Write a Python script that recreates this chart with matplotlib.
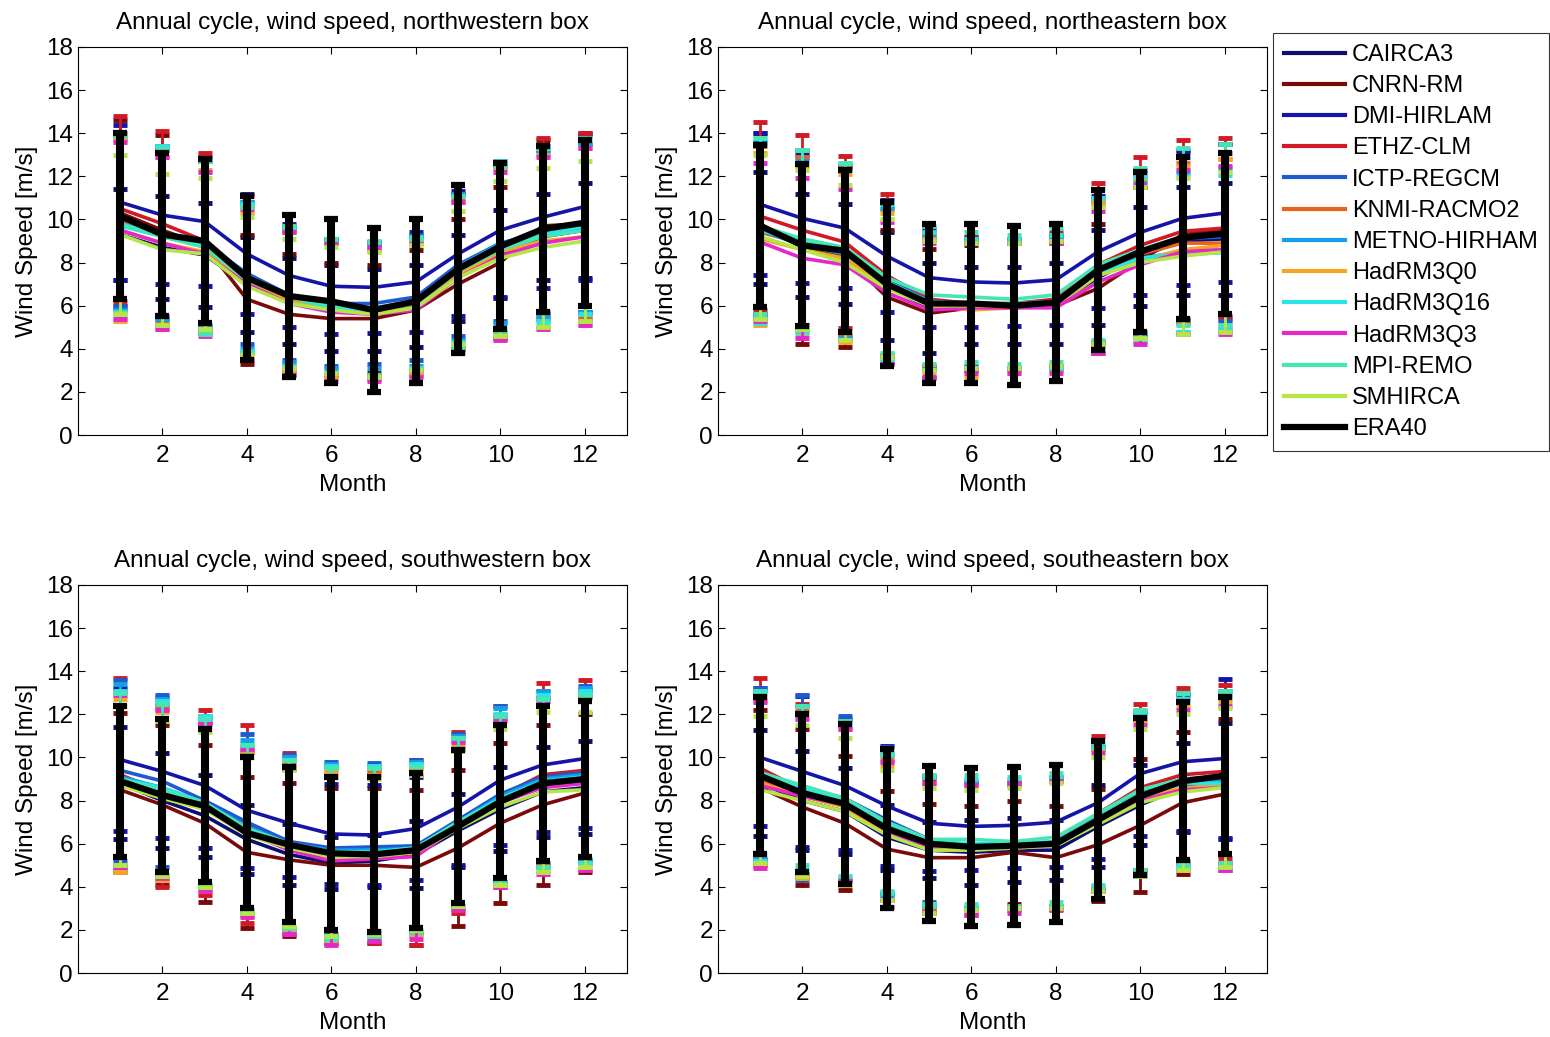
import numpy as np
import matplotlib.pyplot as plt
from matplotlib.lines import Line2D

plt.rcParams['font.family'] = ['Liberation Sans', 'DejaVu Sans']

months = np.arange(1, 13)

models = ['CAIRCA3', 'CNRN-RM', 'DMI-HIRLAM', 'ETHZ-CLM', 'ICTP-REGCM',
          'KNMI-RACMO2', 'METNO-HIRHAM', 'HadRM3Q0', 'HadRM3Q16', 'HadRM3Q3',
          'MPI-REMO', 'SMHIRCA', 'ERA40']
colors = ['#0d0d73', '#7a0a0a', '#1414a8', '#d01a26', '#1e5ad2', '#e8641e',
          '#14a0e6', '#f5a623', '#28e6e6', '#e628c8', '#46e6b4', '#b4e646', 'k']

# monthly mean wind speed [m/s], one row per model (same order as models)
nw_mean = [
    [9.3, 8.7, 8.35, 7.0, 6.2, 5.9, 5.8, 6.0, 7.3, 8.4, 9.2, 9.5],
    [10.3, 9.5, 8.8, 6.3, 5.6, 5.4, 5.4, 5.8, 7.0, 8.0, 9.7, 9.8],
    [10.8, 10.2, 9.9, 8.4, 7.4, 6.9, 6.85, 7.1, 8.4, 9.5, 10.1, 10.6],
    [10.5, 9.8, 9.0, 7.3, 6.3, 5.9, 5.7, 6.0, 7.6, 8.6, 9.6, 9.7],
    [10.0, 9.3, 8.9, 7.5, 6.5, 6.1, 6.1, 6.4, 7.9, 8.9, 9.4, 9.6],
    [9.9, 9.2, 8.8, 7.2, 6.3, 5.9, 5.7, 6.0, 7.5, 8.6, 9.3, 9.5],
    [9.8, 9.3, 8.9, 7.4, 6.5, 6.0, 5.9, 6.2, 7.8, 8.9, 9.3, 9.6],
    [9.5, 8.9, 8.5, 7.0, 6.2, 5.8, 5.6, 5.9, 7.4, 8.5, 9.0, 9.2],
    [9.7, 9.2, 8.8, 7.3, 6.4, 5.9, 5.8, 6.1, 7.7, 8.8, 9.3, 9.7],
    [9.5, 8.9, 8.4, 7.0, 6.1, 5.7, 5.6, 5.8, 7.3, 8.3, 8.9, 9.2],
    [9.8, 9.2, 8.7, 7.2, 6.4, 6.0, 5.9, 6.1, 7.6, 8.6, 9.2, 9.5],
    [9.3, 8.6, 8.4, 6.9, 6.1, 5.8, 5.6, 5.9, 7.3, 8.2, 8.7, 9.0],
    [10.15, 9.3, 9.0, 7.3, 6.45, 6.2, 5.8, 6.2, 7.7, 8.75, 9.55, 9.85],
]
nw_std = [
    [2.1, 2.4, 2.4, 2.2, 2.0, 2.0, 1.9, 1.9, 2.0, 2.05, 2.0, 2.2],
    [4.3, 4.4, 4.0, 3.0, 2.8, 2.6, 2.5, 2.8, 3.0, 3.5, 4.0, 4.1],
    [3.6, 3.2, 3.0, 2.8, 2.4, 2.2, 2.1, 2.3, 2.9, 3.1, 3.3, 3.4],
    [4.3, 4.3, 4.1, 3.8, 3.3, 3.1, 3.1, 3.2, 3.6, 4.1, 4.2, 4.3],
    [4.0, 3.9, 3.8, 3.3, 3.0, 2.9, 2.8, 2.9, 3.3, 3.6, 3.8, 3.9],
    [4.1, 4.0, 3.9, 3.4, 3.1, 3.0, 2.9, 3.0, 3.4, 3.8, 3.9, 4.0],
    [4.0, 3.9, 3.9, 3.4, 3.1, 2.9, 2.8, 3.0, 3.4, 3.7, 3.8, 3.9],
    [4.2, 4.0, 3.8, 3.3, 3.2, 3.1, 3.0, 3.1, 3.4, 3.9, 4.0, 4.1],
    [4.2, 4.2, 3.9, 3.4, 3.2, 3.0, 3.0, 3.1, 3.4, 3.9, 4.0, 4.1],
    [4.1, 4.0, 3.8, 3.5, 3.3, 3.2, 3.1, 3.1, 3.5, 3.9, 4.0, 4.1],
    [4.1, 4.1, 4.0, 3.4, 3.3, 3.1, 3.1, 3.0, 3.5, 3.9, 4.1, 4.2],
    [3.7, 3.5, 3.5, 3.2, 3.0, 2.9, 2.9, 2.9, 3.1, 3.6, 3.7, 3.7],
    [3.85, 3.8, 3.8, 3.8, 3.75, 3.8, 3.8, 3.8, 3.9, 3.85, 3.85, 3.85],
]

ne_mean = [
    [9.6, 8.8, 8.4, 6.9, 5.9, 6.0, 6.0, 6.1, 7.3, 8.3, 9.0, 9.1],
    [9.8, 8.7, 8.3, 6.4, 5.65, 5.9, 6.0, 6.0, 6.8, 8.1, 9.3, 9.5],
    [10.7, 10.05, 9.6, 8.3, 7.3, 7.1, 7.05, 7.2, 8.5, 9.4, 10.05, 10.3],
    [10.15, 9.5, 8.95, 7.4, 6.3, 6.1, 6.1, 6.3, 7.9, 8.8, 9.45, 9.6],
    [9.6, 9.0, 8.6, 7.2, 6.2, 6.1, 6.0, 6.2, 7.6, 8.5, 9.1, 9.2],
    [9.4, 8.9, 8.5, 7.1, 6.1, 6.0, 6.0, 6.1, 7.6, 8.4, 8.9, 8.9],
    [9.5, 8.8, 8.4, 7.0, 6.1, 6.1, 6.0, 6.1, 7.4, 8.2, 8.5, 8.6],
    [9.1, 8.6, 8.2, 6.9, 6.0, 5.8, 5.9, 6.0, 7.4, 8.1, 8.6, 8.8],
    [9.5, 9.0, 8.5, 7.1, 6.2, 6.1, 6.1, 6.2, 7.5, 8.2, 8.4, 8.45],
    [8.95, 8.2, 7.9, 6.6, 5.8, 5.9, 5.9, 5.9, 7.1, 7.9, 8.5, 8.6],
    [9.7, 9.1, 8.7, 7.3, 6.5, 6.4, 6.3, 6.5, 7.9, 8.6, 9.2, 9.3],
    [9.2, 8.6, 8.0, 6.8, 6.0, 6.0, 6.0, 6.1, 7.4, 8.0, 8.3, 8.5],
    [9.7, 8.8, 8.55, 7.0, 6.1, 6.1, 6.0, 6.15, 7.65, 8.5, 9.15, 9.35],
]
ne_std = [
    [2.6, 2.4, 2.3, 2.5, 2.1, 1.8, 1.8, 1.9, 2.2, 2.3, 2.5, 2.6],
    [4.2, 4.5, 4.2, 3.1, 3.0, 2.9, 2.9, 2.9, 3.0, 3.4, 3.9, 4.0],
    [3.3, 3.0, 2.8, 2.6, 2.3, 2.1, 2.0, 2.1, 2.6, 2.9, 3.1, 3.2],
    [4.35, 4.4, 4.0, 3.8, 3.1, 3.1, 3.0, 3.1, 3.8, 4.1, 4.25, 4.2],
    [4.0, 3.9, 3.9, 3.5, 3.0, 2.9, 2.9, 3.0, 3.3, 3.7, 3.8, 3.9],
    [4.0, 4.0, 3.9, 3.4, 3.0, 3.0, 3.0, 3.0, 3.3, 3.6, 3.7, 3.9],
    [4.0, 3.9, 3.9, 3.5, 3.1, 3.0, 2.9, 3.0, 3.3, 3.6, 3.7, 3.8],
    [4.0, 3.9, 3.9, 3.4, 3.1, 3.1, 3.0, 3.0, 3.4, 3.8, 3.9, 4.0],
    [4.3, 4.2, 4.1, 3.6, 3.2, 3.0, 3.0, 3.1, 3.5, 3.8, 3.6, 3.6],
    [3.65, 3.7, 3.5, 3.3, 3.1, 3.0, 3.0, 3.0, 3.3, 3.7, 3.8, 3.9],
    [4.1, 4.1, 3.9, 3.5, 3.2, 3.0, 3.0, 3.1, 3.5, 3.8, 4.1, 4.2],
    [3.8, 3.7, 3.6, 3.2, 3.0, 2.9, 2.9, 2.9, 3.2, 3.5, 3.6, 3.7],
    [3.75, 3.75, 3.75, 3.8, 3.7, 3.7, 3.7, 3.65, 3.7, 3.7, 3.75, 3.75],
]

sw_mean = [
    [8.8, 8.0, 7.3, 6.2, 5.5, 5.1, 5.2, 5.5, 6.6, 7.6, 8.4, 8.6],
    [8.5, 7.8, 6.95, 5.6, 5.25, 5.0, 5.0, 4.9, 5.8, 6.95, 7.8, 8.35],
    [9.9, 9.35, 8.7, 7.55, 6.95, 6.45, 6.4, 6.7, 7.7, 8.95, 9.65, 9.95],
    [9.2, 8.4, 7.9, 6.9, 6.0, 5.5, 5.4, 5.6, 7.0, 8.2, 9.2, 9.4],
    [9.4, 8.9, 8.0, 7.0, 6.1, 5.8, 5.85, 5.9, 7.1, 8.3, 9.1, 9.3],
    [9.0, 8.3, 7.8, 6.6, 5.9, 5.5, 5.5, 5.7, 6.9, 8.0, 8.9, 9.0],
    [9.1, 8.6, 7.9, 6.8, 6.0, 5.7, 5.7, 5.8, 7.0, 8.2, 9.0, 9.2],
    [8.7, 8.2, 7.6, 6.5, 5.8, 5.4, 5.4, 5.6, 6.8, 7.9, 8.7, 8.9],
    [9.0, 8.6, 7.9, 6.7, 6.0, 5.6, 5.6, 5.8, 7.0, 8.1, 8.9, 9.1],
    [8.9, 8.3, 7.7, 6.5, 5.7, 5.2, 5.3, 5.4, 6.8, 7.9, 8.6, 8.8],
    [9.0, 8.5, 7.9, 6.7, 6.0, 5.6, 5.6, 5.8, 7.0, 8.0, 8.8, 9.0],
    [8.7, 8.1, 7.6, 6.4, 5.8, 5.4, 5.4, 5.6, 6.7, 7.7, 8.4, 8.5],
    [8.9, 8.25, 7.75, 6.5, 5.95, 5.55, 5.5, 5.7, 6.8, 7.95, 8.8, 9.0],
]
sw_std = [
    [2.6, 2.2, 1.9, 1.6, 1.4, 1.2, 1.2, 1.55, 1.7, 1.95, 2.1, 2.15],
    [3.55, 3.7, 3.65, 3.5, 3.55, 3.6, 3.6, 3.6, 3.6, 3.7, 3.7, 3.65],
    [3.3, 3.1, 2.9, 2.7, 2.5, 2.3, 2.3, 2.4, 2.7, 3.0, 3.1, 3.2],
    [4.5, 4.4, 4.3, 4.6, 4.2, 4.1, 4.0, 4.3, 4.2, 4.2, 4.25, 4.2],
    [4.2, 4.0, 3.9, 4.1, 4.0, 4.0, 3.9, 4.0, 4.0, 4.1, 4.0, 4.0],
    [4.1, 4.0, 3.9, 3.9, 3.9, 3.9, 3.8, 3.8, 3.9, 3.8, 3.9, 3.9],
    [4.3, 4.1, 3.9, 4.0, 4.0, 4.0, 3.9, 4.0, 4.0, 4.1, 4.1, 4.0],
    [4.0, 3.9, 3.8, 3.8, 3.8, 3.9, 3.8, 3.8, 3.8, 3.8, 3.9, 3.9],
    [4.1, 4.0, 4.0, 3.9, 3.9, 4.0, 4.0, 3.9, 3.9, 3.9, 4.0, 4.0],
    [4.0, 3.9, 3.9, 3.9, 3.9, 3.9, 3.8, 3.8, 3.9, 3.9, 4.0, 4.0],
    [4.0, 4.0, 3.9, 3.9, 3.9, 3.9, 3.9, 3.8, 3.9, 3.9, 3.9, 3.9],
    [3.7, 3.6, 3.6, 3.6, 3.6, 3.7, 3.6, 3.6, 3.6, 3.6, 3.7, 3.6],
    [3.5, 3.55, 3.55, 3.5, 3.6, 3.55, 3.6, 3.6, 3.55, 3.55, 3.6, 3.6],
]

se_mean = [
    [8.8, 8.0, 7.5, 6.3, 5.7, 5.6, 5.7, 5.7, 6.8, 7.8, 8.6, 8.9],
    [8.6, 7.7, 6.95, 5.75, 5.35, 5.35, 5.6, 5.35, 5.95, 6.85, 7.9, 8.3],
    [10.0, 9.35, 8.7, 7.75, 6.95, 6.8, 6.85, 7.0, 7.9, 9.25, 9.8, 9.95],
    [9.5, 8.5, 8.0, 6.9, 6.0, 5.8, 5.8, 6.1, 7.4, 8.6, 9.2, 9.35],
    [9.2, 8.6, 8.1, 7.1, 6.2, 5.9, 5.9, 6.0, 7.2, 8.4, 9.0, 9.1],
    [8.9, 8.3, 7.8, 6.7, 5.9, 5.8, 5.8, 6.0, 7.2, 8.3, 8.9, 9.0],
    [9.2, 8.5, 7.9, 6.9, 6.1, 5.9, 5.9, 6.0, 7.1, 8.2, 8.8, 8.9],
    [8.8, 8.2, 7.7, 6.5, 5.8, 5.8, 5.8, 6.0, 7.1, 8.1, 8.6, 8.7],
    [9.1, 8.6, 8.0, 6.9, 6.1, 6.0, 6.0, 6.1, 7.2, 8.3, 8.8, 8.8],
    [8.7, 8.2, 7.8, 6.6, 5.8, 5.7, 5.8, 5.9, 7.0, 8.0, 8.5, 8.6],
    [9.3, 8.7, 8.1, 7.0, 6.2, 6.2, 6.1, 6.3, 7.4, 8.5, 9.0, 9.1],
    [8.5, 8.0, 7.5, 6.4, 5.7, 5.7, 5.8, 5.9, 6.9, 7.9, 8.4, 8.6],
    [9.15, 8.35, 7.85, 6.7, 6.0, 5.85, 5.9, 6.0, 7.1, 8.2, 8.9, 9.15],
]
se_std = [
    [2.45, 2.3, 2.0, 1.5, 1.3, 1.5, 1.5, 1.4, 1.9, 1.85, 2.05, 2.7],
    [3.6, 3.6, 3.1, 2.7, 2.5, 2.4, 2.4, 2.4, 2.6, 3.1, 3.3, 3.5],
    [3.2, 3.5, 3.0, 2.8, 2.2, 2.0, 2.0, 2.1, 2.6, 2.9, 3.2, 3.7],
    [4.2, 4.0, 3.8, 3.2, 3.0, 3.1, 2.9, 3.0, 3.6, 3.9, 4.0, 4.0],
    [4.0, 4.3, 3.8, 3.4, 2.9, 2.9, 2.9, 3.0, 3.3, 3.6, 3.9, 4.0],
    [3.9, 3.9, 3.6, 3.2, 2.9, 2.9, 2.9, 2.9, 3.2, 3.5, 3.8, 3.9],
    [3.9, 3.9, 3.7, 3.3, 3.0, 2.9, 2.9, 3.0, 3.3, 3.6, 3.8, 3.9],
    [3.8, 3.8, 3.6, 3.1, 3.0, 2.9, 2.9, 3.0, 3.3, 3.6, 3.8, 3.9],
    [3.9, 3.8, 3.6, 3.2, 3.0, 3.0, 3.0, 3.0, 3.3, 3.8, 3.9, 4.0],
    [3.85, 3.6, 3.5, 3.2, 3.0, 3.0, 3.0, 3.0, 3.2, 3.5, 3.7, 3.8],
    [3.8, 3.7, 3.6, 3.2, 3.0, 3.0, 3.0, 3.0, 3.3, 3.7, 4.0, 4.0],
    [3.4, 3.5, 3.4, 3.0, 2.9, 2.8, 2.8, 2.9, 3.1, 3.4, 3.6, 3.7],
    [3.65, 3.65, 3.7, 3.7, 3.6, 3.65, 3.65, 3.65, 3.65, 3.65, 3.65, 3.65],
]

boxes = ['northwestern', 'northeastern', 'southwestern', 'southeastern']
panel_means = [nw_mean, ne_mean, sw_mean, se_mean]
panel_stds = [nw_std, ne_std, sw_std, se_std]

fig = plt.figure(figsize=(15.5, 10.37), dpi=100)

# axes rectangles [left, bottom, width, height] in figure fractions
rects = [[0.0503, 0.5805, 0.3542, 0.3742],
         [0.4632, 0.5805, 0.3542, 0.3742],
         [0.0503, 0.0617, 0.3542, 0.3742],
         [0.4632, 0.0617, 0.3542, 0.3742]]

fs = 17.5

for rect, box, mean, std in zip(rects, boxes, panel_means, panel_stds):
    ax = fig.add_axes(rect)
    for i, name in enumerate(models):
        if name == 'ERA40':
            ax.errorbar(months, mean[i], yerr=std[i], color=colors[i],
                        linewidth=4.5, elinewidth=5.8, capsize=5, capthick=4.5,
                        zorder=3)
        else:
            ax.errorbar(months, mean[i], yerr=std[i], color=colors[i],
                        linewidth=2.6, elinewidth=2.0, capsize=5, capthick=3.5,
                        zorder=2)
    ax.set_xlim(0, 13)
    ax.set_ylim(0, 18)
    ax.set_xticks([2, 4, 6, 8, 10, 12])
    ax.set_yticks(np.arange(0, 19, 2))
    ax.tick_params(direction='in', top=True, right=True, length=5,
                   labelsize=fs, width=0.8)
    ax.tick_params(axis='x', pad=7)
    ax.set_xlabel('Month', fontsize=fs, labelpad=5)
    ax.set_ylabel('Wind Speed [m/s]', fontsize=fs, labelpad=6)
    ax.set_title('Annual cycle, wind speed, %s box' % box, fontsize=fs, pad=13)

handles = [Line2D([], [], color=c, linewidth=(4.5 if n == 'ERA40' else 3))
           for n, c in zip(models, colors)]
leg = fig.legend(handles, models, loc='upper left',
                 bbox_to_anchor=(0.8213, 0.968), fontsize=17,
                 frameon=True, fancybox=False, edgecolor='k',
                 handlelength=2.6, handletextpad=0.3, labelspacing=0.39,
                 borderpad=0.45, borderaxespad=0.0)
leg.get_frame().set_linewidth(0.8)

fig.savefig('out.png', dpi=100)
